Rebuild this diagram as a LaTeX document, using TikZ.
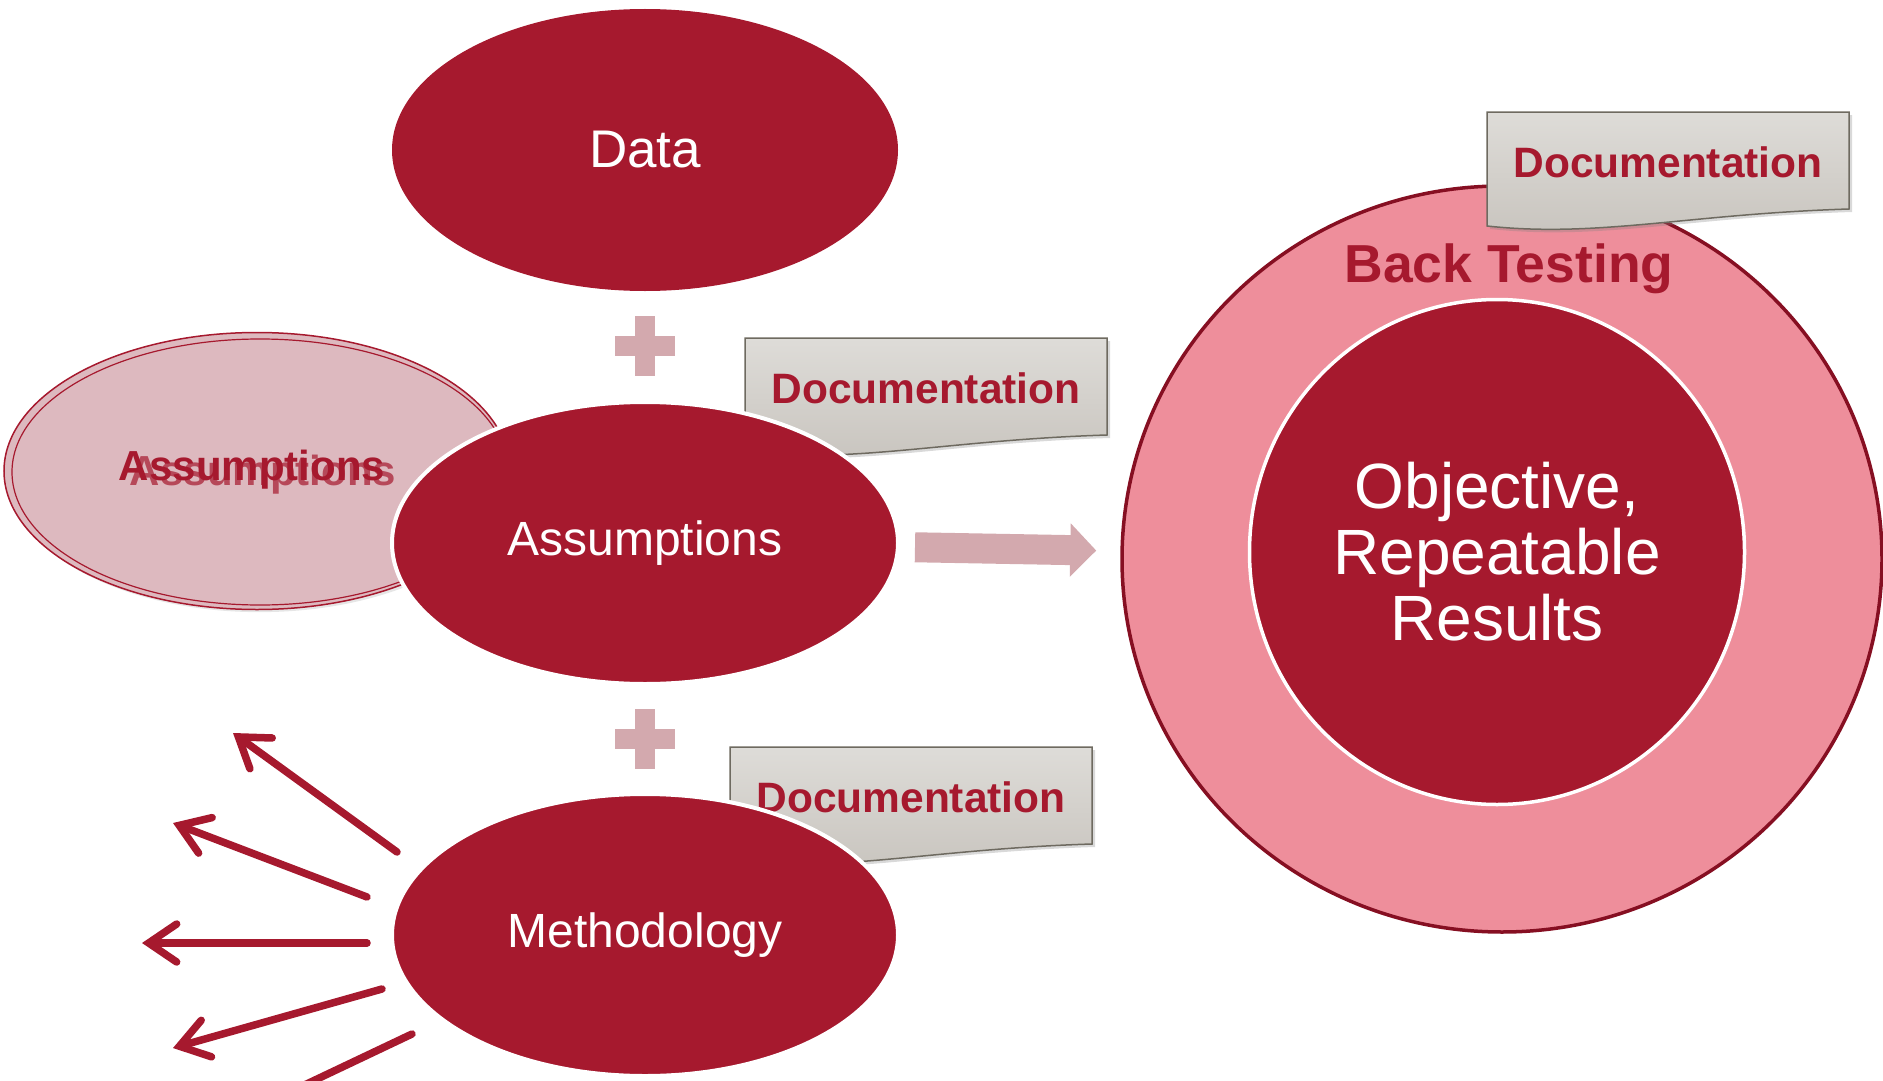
\documentclass[tikz,border=0pt]{standalone}
\usepackage{fontspec}
\setmainfont{Liberation Sans}
\usetikzlibrary{shapes.geometric,arrows.meta,shadows}
\definecolor{maroon}{HTML}{A6192E}
\definecolor{ringpink}{HTML}{EE8E9B}
\definecolor{ringline}{HTML}{860F22}
\definecolor{ghostfill}{HTML}{DDB9BF}
\definecolor{pluspink}{HTML}{D3A9AE}
\definecolor{doctop}{HTML}{DEDCD8}
\definecolor{docbot}{HTML}{C8C4BE}
\definecolor{docline}{HTML}{6E6A60}

\begin{document}
\begin{tikzpicture}[x=1pt,y=-1pt,
   blob/.style={ellipse,fill=maroon,text=white,inner sep=0pt,
      minimum width=506pt,minimum height=282pt,font=\fontsize{48}{52}\selectfont},
   rimmed/.style={draw=white,line width=4pt},
   doctext/.style={text=maroon,inner sep=0pt,font=\bfseries\fontsize{42.5}{46}\selectfont},
   docsheet/.style={top color=doctop,bottom color=docbot,draw=docline,line width=1.5pt,
      drop shadow={shadow xshift=3pt,shadow yshift=-3pt,opacity=.3}},
   docpage/.pic={\path[docsheet] (-181,-50) -- (181,-50) -- (181,47)
      .. controls (20,52) and (-70,76) .. (-181,64) -- cycle;},
   plussign/.pic={\fill[pluspink] (-30,-10) rectangle (30,10);
      \fill[pluspink] (-10,-30) rectangle (10,30);},
   fanarrow/.style={draw=maroon,line width=7.5pt,line cap=round,
      -{Straight Barb[length=28pt,width=38pt,line cap=round]}},
   blockarrow/.style={draw=pluspink,line width=30pt,-{Triangle[length=26pt,width=52pt]}}]
   \useasboundingbox (0,0) rectangle (1883,1081);
   \clip (0,0) rectangle (1883,1081);

   % faded copy behind the middle ellipse
   \node (ghost) at (257,471) [ellipse,fill=ghostfill,draw=maroon,line width=1.5pt,
      minimum width=506pt,minimum height=277pt,drop shadow={opacity=.2}] {};
   \node (ghostrim) at (260,472) [ellipse,draw=maroon,line width=1.2pt,
      minimum width=496pt,minimum height=266pt] {};
   \node (ghostb) at (263,475) [doctext,font=\bfseries\fontsize{42}{46}\selectfont,opacity=.7] {Assumptions};
   \node (ghosta) at (252,470) [doctext,font=\bfseries\fontsize{42}{46}\selectfont] {Assumptions};

   % notes tucked behind the ellipses
   \pic at (926,388) {docpage};
   \node (doc1) at (926,388) [doctext] {Documentation};
   \pic at (911,797) {docpage};
   \node (doc2) at (911,797) [doctext] {Documentation};

   \pic at (645,346) {plussign};
   \pic at (645,739) {plussign};

   \node (data)  at (645,150) [blob,font=\fontsize{53}{56}\selectfont] {Data};
   \node (assum) at (645,543) [blob,rimmed] {Assumptions};
   \node (meth)  at (645,935) [blob,rimmed] {Methodology};

   % results
   \node (outer) at (1502,559) [ellipse,fill=ringpink,draw=ringline,line width=3.5pt,
      minimum width=760pt,minimum height=746pt] {};
   \node (inner) at (1497,552) [ellipse,fill=maroon,draw=white,line width=3.5pt,
      minimum width=495pt,minimum height=505pt,inner sep=0pt,text=white,align=center,
      font=\fontsize{64}{66}\selectfont] {Objective,\\Repeatable\\Results};
   \node (back) at (1509,269) [text=maroon,font=\bfseries\fontsize{53.5}{57}\selectfont] {Back Testing};
   \pic at (1668,162) {docpage};
   \node (doc3) at (1668,162) [doctext] {Documentation};

   \draw[blockarrow,shorten <=15pt,shorten >=24pt] ([yshift=-4pt]assum.east) -- ([yshift=8pt]outer.west);

   % arrows fanning out of the methodology
   \coordinate (s1) at (397,852);  \coordinate (e1) at (233,733);
   \coordinate (s2) at (367,897);  \coordinate (e2) at (173,823);
   \coordinate (s3) at (367,943);  \coordinate (e3) at (142,943);
   \coordinate (s4) at (382,989);  \coordinate (e4) at (173,1048);
   \coordinate (s5) at (412,1034); \coordinate (e5) at (216,1127);
   \foreach \i in {1,...,5}
      \draw[fanarrow] (s\i) -- (e\i);
\end{tikzpicture}
\end{document}
